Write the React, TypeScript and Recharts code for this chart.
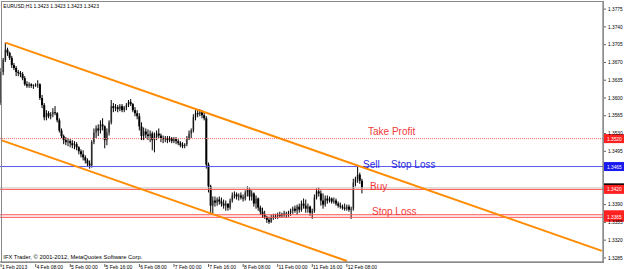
import React from 'react';
import { ComposedChart, Bar, XAxis, YAxis, ReferenceLine } from 'recharts';

const FONT = "'Liberation Sans', Arial, sans-serif";

// H1 bars from 1 Feb 2013 16:00 to 12 Feb 2013 15:00
const opens = [
  1.3590, 1.3651, 1.3675, 1.3695, 1.3689, 1.3679, 1.3665, 1.3659, 1.3651, 1.3649,
  1.3647, 1.3639, 1.3627, 1.3624, 1.3627, 1.3624, 1.3625, 1.3626, 1.3627, 1.3600,
  1.3586, 1.3562, 1.3570, 1.3564, 1.3568, 1.3572, 1.3570, 1.3556, 1.3536, 1.3525,
  1.3517, 1.3513, 1.3515, 1.3511, 1.3507, 1.3509, 1.3503, 1.3495, 1.3489, 1.3483,
  1.3477, 1.3471, 1.3467, 1.3513, 1.3532, 1.3540, 1.3536, 1.3548, 1.3544, 1.3517,
  1.3532, 1.3552, 1.3584, 1.3580, 1.3582, 1.3578, 1.3584, 1.3576, 1.3582, 1.3586,
  1.3592, 1.3588, 1.3576, 1.3570, 1.3564, 1.3544, 1.3525, 1.3534, 1.3528, 1.3525,
  1.3530, 1.3517, 1.3523, 1.3530, 1.3526, 1.3521, 1.3519, 1.3521, 1.3517, 1.3521,
  1.3515, 1.3519, 1.3515, 1.3511, 1.3507, 1.3505, 1.3509, 1.3521, 1.3530, 1.3536,
  1.3562, 1.3570, 1.3568, 1.3572, 1.3566, 1.3560, 1.3469, 1.3426, 1.3388, 1.3398,
  1.3394, 1.3400, 1.3396, 1.3392, 1.3388, 1.3392, 1.3384, 1.3398, 1.3408, 1.3410,
  1.3406, 1.3408, 1.3404, 1.3402, 1.3414, 1.3420, 1.3406, 1.3412, 1.3392, 1.3402,
  1.3384, 1.3376, 1.3370, 1.3366, 1.3360, 1.3356, 1.3364, 1.3366, 1.3368, 1.3370,
  1.3368, 1.3372, 1.3370, 1.3372, 1.3374, 1.3378, 1.3382, 1.3378, 1.3386, 1.3380,
  1.3392, 1.3388, 1.3382, 1.3386, 1.3374, 1.3378, 1.3404, 1.3416, 1.3412, 1.3398,
  1.3390, 1.3402, 1.3398, 1.3402, 1.3396, 1.3398, 1.3392, 1.3388, 1.3386, 1.3384,
  1.3382, 1.3386, 1.3380, 1.3382, 1.3433, 1.3441, 1.3449, 1.3437,
];
const highs = [
  1.3659, 1.3679, 1.3709, 1.3699, 1.3691, 1.3683, 1.3669, 1.3663, 1.3655, 1.3653,
  1.3651, 1.3643, 1.3633, 1.3631, 1.3629, 1.3627, 1.3629, 1.3635, 1.3629, 1.3606,
  1.3590, 1.3576, 1.3574, 1.3572, 1.3580, 1.3584, 1.3572, 1.3560, 1.3540, 1.3528,
  1.3523, 1.3521, 1.3519, 1.3517, 1.3515, 1.3513, 1.3505, 1.3499, 1.3497, 1.3487,
  1.3481, 1.3477, 1.3517, 1.3540, 1.3546, 1.3548, 1.3556, 1.3560, 1.3546, 1.3540,
  1.3556, 1.3596, 1.3590, 1.3588, 1.3586, 1.3588, 1.3588, 1.3584, 1.3590, 1.3596,
  1.3598, 1.3590, 1.3582, 1.3576, 1.3570, 1.3552, 1.3542, 1.3540, 1.3538, 1.3536,
  1.3534, 1.3532, 1.3536, 1.3540, 1.3530, 1.3526, 1.3525, 1.3525, 1.3525, 1.3523,
  1.3523, 1.3523, 1.3519, 1.3515, 1.3513, 1.3511, 1.3525, 1.3536, 1.3540, 1.3568,
  1.3576, 1.3576, 1.3578, 1.3576, 1.3572, 1.3564, 1.3473, 1.3429, 1.3406, 1.3406,
  1.3404, 1.3406, 1.3404, 1.3400, 1.3398, 1.3392, 1.3402, 1.3414, 1.3416, 1.3414,
  1.3412, 1.3414, 1.3410, 1.3418, 1.3426, 1.3424, 1.3418, 1.3414, 1.3408, 1.3404,
  1.3388, 1.3384, 1.3378, 1.3368, 1.3366, 1.3370, 1.3372, 1.3372, 1.3374, 1.3376,
  1.3374, 1.3378, 1.3376, 1.3378, 1.3382, 1.3386, 1.3388, 1.3390, 1.3392, 1.3398,
  1.3402, 1.3400, 1.3392, 1.3388, 1.3382, 1.3410, 1.3422, 1.3424, 1.3418, 1.3412,
  1.3408, 1.3408, 1.3406, 1.3404, 1.3404, 1.3402, 1.3396, 1.3394, 1.3390, 1.3392,
  1.3390, 1.3390, 1.3386, 1.3441, 1.3445, 1.3467, 1.3453, 1.3441,
];
const lows = [
  1.3586, 1.3645, 1.3671, 1.3683, 1.3675, 1.3659, 1.3655, 1.3643, 1.3643, 1.3641,
  1.3635, 1.3624, 1.3620, 1.3620, 1.3620, 1.3618, 1.3622, 1.3620, 1.3596, 1.3580,
  1.3556, 1.3556, 1.3560, 1.3558, 1.3562, 1.3566, 1.3552, 1.3532, 1.3521, 1.3509,
  1.3507, 1.3505, 1.3503, 1.3501, 1.3499, 1.3497, 1.3489, 1.3483, 1.3477, 1.3471,
  1.3465, 1.3461, 1.3463, 1.3509, 1.3521, 1.3525, 1.3530, 1.3536, 1.3501, 1.3507,
  1.3526, 1.3548, 1.3572, 1.3574, 1.3572, 1.3574, 1.3572, 1.3572, 1.3576, 1.3582,
  1.3584, 1.3572, 1.3564, 1.3558, 1.3536, 1.3517, 1.3517, 1.3521, 1.3517, 1.3513,
  1.3497, 1.3493, 1.3517, 1.3521, 1.3513, 1.3511, 1.3513, 1.3511, 1.3513, 1.3511,
  1.3511, 1.3509, 1.3507, 1.3503, 1.3501, 1.3501, 1.3505, 1.3517, 1.3521, 1.3532,
  1.3556, 1.3562, 1.3564, 1.3560, 1.3556, 1.3461, 1.3414, 1.3374, 1.3372, 1.3386,
  1.3388, 1.3390, 1.3386, 1.3382, 1.3378, 1.3378, 1.3380, 1.3394, 1.3402, 1.3400,
  1.3398, 1.3400, 1.3396, 1.3398, 1.3406, 1.3398, 1.3398, 1.3386, 1.3382, 1.3378,
  1.3370, 1.3364, 1.3362, 1.3354, 1.3352, 1.3354, 1.3360, 1.3362, 1.3362, 1.3364,
  1.3364, 1.3366, 1.3364, 1.3366, 1.3368, 1.3372, 1.3374, 1.3370, 1.3374, 1.3376,
  1.3382, 1.3374, 1.3374, 1.3368, 1.3362, 1.3374, 1.3400, 1.3406, 1.3388, 1.3382,
  1.3386, 1.3392, 1.3394, 1.3392, 1.3392, 1.3388, 1.3384, 1.3382, 1.3380, 1.3378,
  1.3378, 1.3376, 1.3362, 1.3378, 1.3426, 1.3433, 1.3431, 1.3412,
];
const closes = [
  1.3651, 1.3675, 1.3695, 1.3689, 1.3679, 1.3665, 1.3659, 1.3651, 1.3649, 1.3647,
  1.3639, 1.3627, 1.3624, 1.3627, 1.3624, 1.3625, 1.3626, 1.3627, 1.3600, 1.3586,
  1.3562, 1.3570, 1.3564, 1.3568, 1.3572, 1.3570, 1.3556, 1.3536, 1.3525, 1.3517,
  1.3513, 1.3515, 1.3511, 1.3507, 1.3509, 1.3503, 1.3495, 1.3489, 1.3483, 1.3477,
  1.3471, 1.3467, 1.3513, 1.3532, 1.3540, 1.3536, 1.3548, 1.3544, 1.3517, 1.3532,
  1.3552, 1.3584, 1.3580, 1.3582, 1.3578, 1.3584, 1.3576, 1.3582, 1.3586, 1.3592,
  1.3588, 1.3576, 1.3570, 1.3564, 1.3544, 1.3525, 1.3534, 1.3528, 1.3525, 1.3530,
  1.3517, 1.3523, 1.3530, 1.3526, 1.3521, 1.3519, 1.3521, 1.3517, 1.3521, 1.3515,
  1.3519, 1.3515, 1.3511, 1.3507, 1.3505, 1.3509, 1.3521, 1.3530, 1.3536, 1.3562,
  1.3570, 1.3568, 1.3572, 1.3566, 1.3560, 1.3469, 1.3426, 1.3388, 1.3398, 1.3394,
  1.3400, 1.3396, 1.3392, 1.3388, 1.3392, 1.3384, 1.3398, 1.3408, 1.3410, 1.3406,
  1.3408, 1.3404, 1.3402, 1.3414, 1.3420, 1.3406, 1.3412, 1.3392, 1.3402, 1.3384,
  1.3376, 1.3370, 1.3366, 1.3360, 1.3356, 1.3364, 1.3366, 1.3368, 1.3370, 1.3368,
  1.3372, 1.3370, 1.3372, 1.3374, 1.3378, 1.3382, 1.3378, 1.3386, 1.3380, 1.3392,
  1.3388, 1.3382, 1.3386, 1.3374, 1.3378, 1.3404, 1.3416, 1.3412, 1.3398, 1.3390,
  1.3402, 1.3398, 1.3402, 1.3396, 1.3398, 1.3392, 1.3388, 1.3386, 1.3384, 1.3382,
  1.3386, 1.3380, 1.3382, 1.3433, 1.3441, 1.3449, 1.3437, 1.3423,
];

// total bar slots on the time axis (including the empty right shift)
const SLOT_COUNT = 279;

const timeTickIdx = [0, 16, 32, 48, 64, 80, 96, 112, 128, 144, 160];
const timeTickLabels = [
  '1 Feb 2013', '4 Feb 08:00', '5 Feb 00:00', '5 Feb 16:00', '6 Feb 08:00', '7 Feb 00:00',
  '7 Feb 16:00', '8 Feb 08:00', '11 Feb 00:00', '11 Feb 16:00', '12 Feb 08:00',
];
const priceTicks = [
  1.3285, 1.3320, 1.3355, 1.3390, 1.3495, 1.3530, 1.3565, 1.3600, 1.3635, 1.3670, 1.3705, 1.3740, 1.3775,
];
const priceDomain = [1.3277, 1.3789];

// channel lines: [startIndex, startPrice, endIndex, endPrice]
const upperChannel = [2, 1.3709, 278, 1.3299];
const lowerChannel = [0, 1.3517, 160, 1.3279];

// order levels
const takeProfit = 1.3520;
const sellLevel = 1.3465;
const bidLevel = 1.3423;
const buyLevel = 1.3420;
const stopLoss1 = 1.3370;
const stopLoss2 = 1.3365;

const data = Array.from({ length: SLOT_COUNT }, (_, i) =>
  i < closes.length
    ? { i, o: opens[i], h: highs[i], l: lows[i], c: closes[i], range: [lows[i], highs[i]] }
    : { i }
);

function Candle(props: any) {
  const p = props.payload ?? props;
  if (p == null || p.h == null) return null;
  const { x, y, width, height } = props;
  const yTop = Math.min(y, y + height);
  const hh = Math.abs(height);
  const cx = x + width / 2;
  const span = p.h - p.l;
  const top = Math.max(p.o, p.c);
  const bot = Math.min(p.o, p.c);
  const by1 = span > 0 ? yTop + ((p.h - top) / span) * hh : yTop;
  const by2 = span > 0 ? yTop + ((p.h - bot) / span) * hh : yTop;
  const bull = p.c >= p.o;
  return (
    <g>
      <rect x={cx - 1} y={by1} width={2} height={Math.max(1, by2 - by1)} fill={bull ? '#9a9a9a' : '#000'} />
      <line x1={cx} x2={cx} y1={yTop} y2={yTop + Math.max(hh, 1)} stroke="#000" strokeWidth={1} />
    </g>
  );
}

function makeLabel(opts: {
  texts?: { t: string; x: number; dy: number }[];
  color?: string;
  box: string;
  boxColor: string;
}) {
  return (props: any) => {
    const vb = props.viewBox || {};
    const y = vb.y;
    const right = vb.x + vb.width;
    return (
      <g>
        {(opts.texts || []).map((t, k) => (
          <text key={k} x={t.x} y={y + t.dy} fill={opts.color} fontSize={10} fontFamily={FONT}>
            {t.t}
          </text>
        ))}
        <rect x={right + 1} y={y - 4.5} width={20} height={9} fill={opts.boxColor} />
        <text x={right + 4} y={y + 2} fill="#fff" fontSize={4.8} fontFamily={FONT}>
          {opts.box}
        </text>
      </g>
    );
  };
}

function TimeTick(props: any) {
  const { x, y, payload } = props;
  const k = timeTickIdx.indexOf(payload.value);
  const label = k >= 0 ? timeTickLabels[k] : '';
  return (
    <g>
      <line x1={x} x2={x} y1={y} y2={y + 3} stroke="#606060" strokeWidth={1} />
      <text x={x + 0.8} y={y + 5.2} fontSize={5} fontFamily={FONT} fill="#000" textAnchor="start">
        {label}
      </text>
    </g>
  );
}

const RED = '#f03a3a';
const BLUE = '#2a2ae0';

export default function App() {
  return (
    <div style={{ position: 'absolute', left: 0, top: 0, width: 624, height: 269, background: '#fff' }}>
      <ComposedChart
        width={624}
        height={269}
        data={data}
        margin={{ top: 2, right: 0, bottom: 0, left: 0 }}
        barCategoryGap={0}
      >
        <XAxis
          dataKey="i"
          type="category"
          ticks={timeTickIdx}
          interval={0}
          height={7}
          tickLine={false}
          tickSize={0}
          tick={<TimeTick />}
          axisLine={{ stroke: '#606060' }}
        />
        <YAxis
          orientation="right"
          width={21}
          domain={priceDomain}
          allowDataOverflow
          type="number"
          ticks={priceTicks}
          interval={0}
          tickSize={3}
          tickMargin={2}
          tickLine={{ stroke: '#606060' }}
          axisLine={{ stroke: '#606060' }}
          tickFormatter={(v: number) => v.toFixed(4)}
          tick={{ fontSize: 4.8, fill: '#000', fontFamily: FONT }}
        />
        <Bar dataKey="range" barSize={2} isAnimationActive={false} shape={<Candle />} />
        <ReferenceLine
          y={takeProfit}
          stroke="#ff6a6a"
          strokeDasharray="1 1"
          label={makeLabel({ texts: [{ t: 'Take Profit', x: 368, dy: -3.7 }], color: RED, box: '1.3520', boxColor: '#ff2020' })}
        />
        <ReferenceLine
          y={sellLevel}
          stroke="#5a5aee"
          label={makeLabel({
            texts: [
              { t: 'Sell', x: 363, dy: 1.6 },
              { t: 'Stop Loss', x: 391, dy: 1.6 },
            ],
            color: BLUE,
            box: '1.3465',
            boxColor: '#1a1af0',
          })}
        />
        <ReferenceLine
          y={bidLevel}
          stroke="#c8c8c8"
          label={makeLabel({ box: '1.3423', boxColor: '#000' })}
        />
        <ReferenceLine
          y={buyLevel}
          stroke="#ff5050"
          label={makeLabel({ texts: [{ t: 'Buy', x: 370, dy: 0.5 }], color: RED, box: '1.3420', boxColor: '#ff2020' })}
        />
        <ReferenceLine
          y={stopLoss1}
          stroke="#ff5050"
          label={makeLabel({ texts: [{ t: 'Stop Loss', x: 372, dy: 0 }], color: RED, box: '1.3370', boxColor: '#ff2020' })}
        />
        <ReferenceLine
          y={stopLoss2}
          stroke="#ff5050"
          label={makeLabel({ box: '1.3365', boxColor: '#ff2020' })}
        />
        <ReferenceLine
          segment={[
            { x: upperChannel[0], y: upperChannel[1] },
            { x: upperChannel[2], y: upperChannel[3] },
          ]}
          stroke="#ff8c00"
          strokeWidth={2}
        />
        <ReferenceLine
          segment={[
            { x: lowerChannel[0], y: lowerChannel[1] },
            { x: lowerChannel[2], y: lowerChannel[3] },
          ]}
          stroke="#ff8c00"
          strokeWidth={2}
        />
      </ComposedChart>
      <svg
        width={624}
        height={269}
        style={{ position: 'absolute', left: 0, top: 0, pointerEvents: 'none' }}
      >
        <rect x={1.5} y={1.5} width={602} height={261} fill="none" stroke="#8a8a8a" strokeWidth={1} />
        <text x={3.3} y={7.6} fontSize={5} fontFamily={FONT} fill="#000">
          EURUSD,H1  1.3423 1.3423 1.3423 1.3423
        </text>
        <text x={3.3} y={258.7} fontSize={5.8} fontFamily={FONT} fill="#000">
          IFX Trader, © 2001-2012, MetaQuotes Software Corp.
        </text>
      </svg>
    </div>
  );
}
